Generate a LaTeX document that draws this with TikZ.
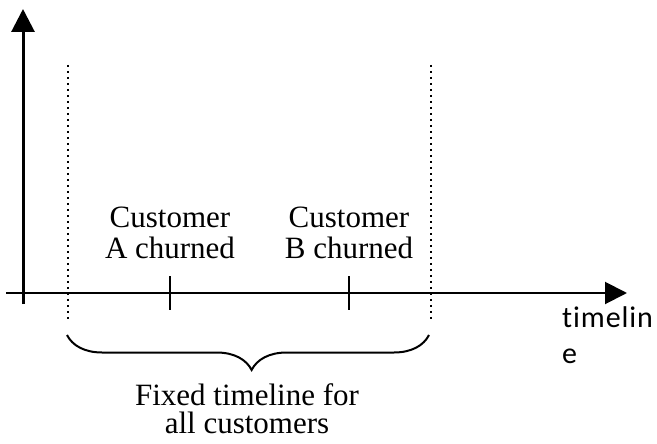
\documentclass[tikz,border=0pt]{standalone}
\usepackage{fontspec}
\setmainfont{Liberation Serif}
\newfontfamily\labelsans[Ligatures={NoCommon,NoRequired,NoContextual},LetterSpace=3]{Carlito}
\usetikzlibrary{arrows.meta,decorations.pathreplacing}

\begin{document}
\begin{tikzpicture}[x=1pt,y=-1pt,
  axis/.style={line width=2pt,-{Triangle[length=22pt,width=22pt]}},
  yaxis/.style={line width=3pt,-{Triangle[length=23pt,width=23pt]}},
  bound/.style={line width=1.6pt,dash pattern=on 1.6pt off 4.4pt},
  tickmark/.style={line width=2.4pt},
  serlabel/.style={inner sep=0pt,align=center,font=\fontsize{31pt}{31pt}\selectfont},
  sanslabel/.style={inner sep=0pt,align=left,font=\labelsans\fontsize{30pt}{36pt}\selectfont},
  bracestyle/.style={line width=2pt,decorate,decoration={brace,mirror,amplitude=35pt,aspect=0.51}}
]
\useasboundingbox (0,0) rectangle (657,444);

% axes
\coordinate (xstart) at (6,293);
\coordinate (xend) at (627,293);
\coordinate (ystart) at (23,304);
\coordinate (yend) at (23,9);
\draw[axis] (xstart) -- (xend);
\draw[yaxis] (ystart) -- (yend);

% window boundaries
\coordinate (lt) at (68,65);
\coordinate (lb) at (68,322);
\coordinate (rt) at (431,65);
\coordinate (rb) at (431,322);
\draw[bound] (lt) -- (lb);
\draw[bound] (rt) -- (rb);

% churn events
\coordinate (at) at (170,276);
\coordinate (ab) at (170,310);
\coordinate (bt) at (349,276);
\coordinate (bb) at (349,310);
\draw[tickmark] (at) -- (ab);
\draw[tickmark] (bt) -- (bb);

% anchor=base sits on the last line of a multi-line node
\node[serlabel,anchor=base] (custA) at (170,258) {Customer\\A churned};
\node[serlabel,anchor=base] (custB) at (349,258) {Customer\\B churned};

% brace under the fixed window
\coordinate (bl) at (67,335);
\coordinate (br) at (429,335);
\draw[bracestyle] (bl) -- (br);

\node[serlabel,anchor=base,font=\fontsize{31pt}{28pt}\selectfont] (fixed) at (247,433) {Fixed timeline for\\all customers};

\node[sanslabel,anchor=base west] (tl) at (562,363) {timelin\\e};
\end{tikzpicture}
\end{document}
